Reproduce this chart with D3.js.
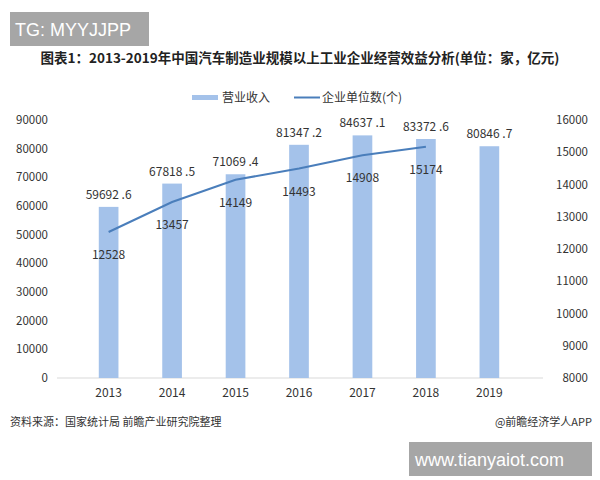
<!DOCTYPE html><html><head><meta charset="utf-8"><script src="https://cdn.jsdelivr.net/npm/d3@7"></script>
<style>body{margin:0;background:#fff}text{font-family:"Noto Sans CJK SC",sans-serif}</style></head><body>
<svg id="c" width="600" height="480"></svg>
<script>
const years=["2013","2014","2015","2016","2017","2018","2019"];
const revenue=[59692.6,67818.5,71069.4,81347.2,84637.1,83372.6,80846.7];
const units=[12528,13457,14149,14493,14908,15174,null];
const leftTicks=[0,10000,20000,30000,40000,50000,60000,70000,80000,90000];
const rightTicks=[8000,9000,10000,11000,12000,13000,14000,15000,16000];
const svg=d3.select("#c");
const x=d3.scaleBand().domain(years).range([55,543]).padding(0.69);
const yL=d3.scaleLinear().domain([0,90000]).range([378,120]);
const yR=d3.scaleLinear().domain([8000,16000]).range([378,120]);
svg.append("rect").attr("x",10).attr("y",12).attr("width",139).attr("height",34).attr("fill","#a6a6a6");
svg.append("text").attr("x",15).attr("y",36).attr("fill","#fff").attr("font-size",18).style("font-family","Liberation Sans").text("TG: MYYJJPP");
svg.append("text").attr("x",300).attr("y",63).attr("text-anchor","middle").attr("font-size",13.5).attr("font-weight","bold").attr("fill","#222").text("图表1：2013-2019年中国汽车制造业规模以上工业企业经营效益分析(单位：家，亿元)");
svg.append("rect").attr("x",192).attr("y",95).attr("width",26).attr("height",5).attr("fill","#a4c2ea");
svg.append("text").attr("x",222).attr("y",102).attr("font-size",12).attr("fill","#333").text("营业收入");
svg.append("line").attr("x1",294).attr("x2",320).attr("y1",97.5).attr("y2",97.5).attr("stroke","#4a7ebb").attr("stroke-width",2);
svg.append("text").attr("x",322).attr("y",102).attr("font-size",12).attr("fill","#333").text("企业单位数(个)");
svg.append("line").attr("x1",57).attr("x2",543).attr("y1",378).attr("y2",378).attr("stroke","#d9d9d9");
svg.selectAll(".lt").data(leftTicks).join("text").attr("x",48).attr("y",d=>yL(d)+4).attr("text-anchor","end").attr("font-size",11.5).attr("fill","#333").text(d=>d);
svg.selectAll(".rt").data(rightTicks).join("text").attr("x",588).attr("y",d=>yR(d)+4).attr("text-anchor","end").attr("font-size",11.5).attr("fill","#333").text(d=>d);
svg.selectAll(".xt").data(years).join("text").attr("x",d=>x(d)+x.bandwidth()/2).attr("y",397).attr("text-anchor","middle").attr("font-size",12).attr("fill","#333").text(d=>d);
svg.selectAll(".bar").data(years).join("rect").attr("x",d=>x(d)).attr("width",x.bandwidth()).attr("y",(d,i)=>yL(revenue[i])).attr("height",(d,i)=>378-yL(revenue[i])).attr("fill","#a4c2ea");
svg.selectAll(".bl").data(years).join("text").attr("x",d=>x(d)+x.bandwidth()/2).attr("y",(d,i)=>yL(revenue[i])-8).attr("text-anchor","middle").attr("font-size",12).attr("fill","#333").text((d,i)=>revenue[i].toFixed(1).replace("."," ."));
const pts=years.map((d,i)=>[d,units[i]]).filter(p=>p[1]!=null);
svg.append("path").attr("d",d3.line().x(p=>x(p[0])+x.bandwidth()/2).y(p=>yR(p[1]))(pts)).attr("fill","none").attr("stroke","#4a7ebb").attr("stroke-width",2);
svg.selectAll(".ul").data(pts).join("text").attr("x",p=>x(p[0])+x.bandwidth()/2).attr("y",p=>yR(p[1])+27).attr("text-anchor","middle").attr("font-size",12).attr("fill","#333").text(p=>p[1]);
svg.append("text").attr("x",10).attr("y",426).attr("font-size",11).attr("fill","#333").text("资料来源：国家统计局 前瞻产业研究院整理");
svg.append("text").attr("x",592).attr("y",426).attr("text-anchor","end").attr("font-size",11).attr("fill","#333").text("@前瞻经济学人APP");
svg.append("rect").attr("x",409).attr("y",442).attr("width",183).attr("height",34).attr("fill","#a6a6a6");
svg.append("text").attr("x",415).attr("y",466).attr("fill","#fff").attr("font-size",18).style("font-family","Liberation Sans").text("www.tianyaiot.com");
</script></body></html>
